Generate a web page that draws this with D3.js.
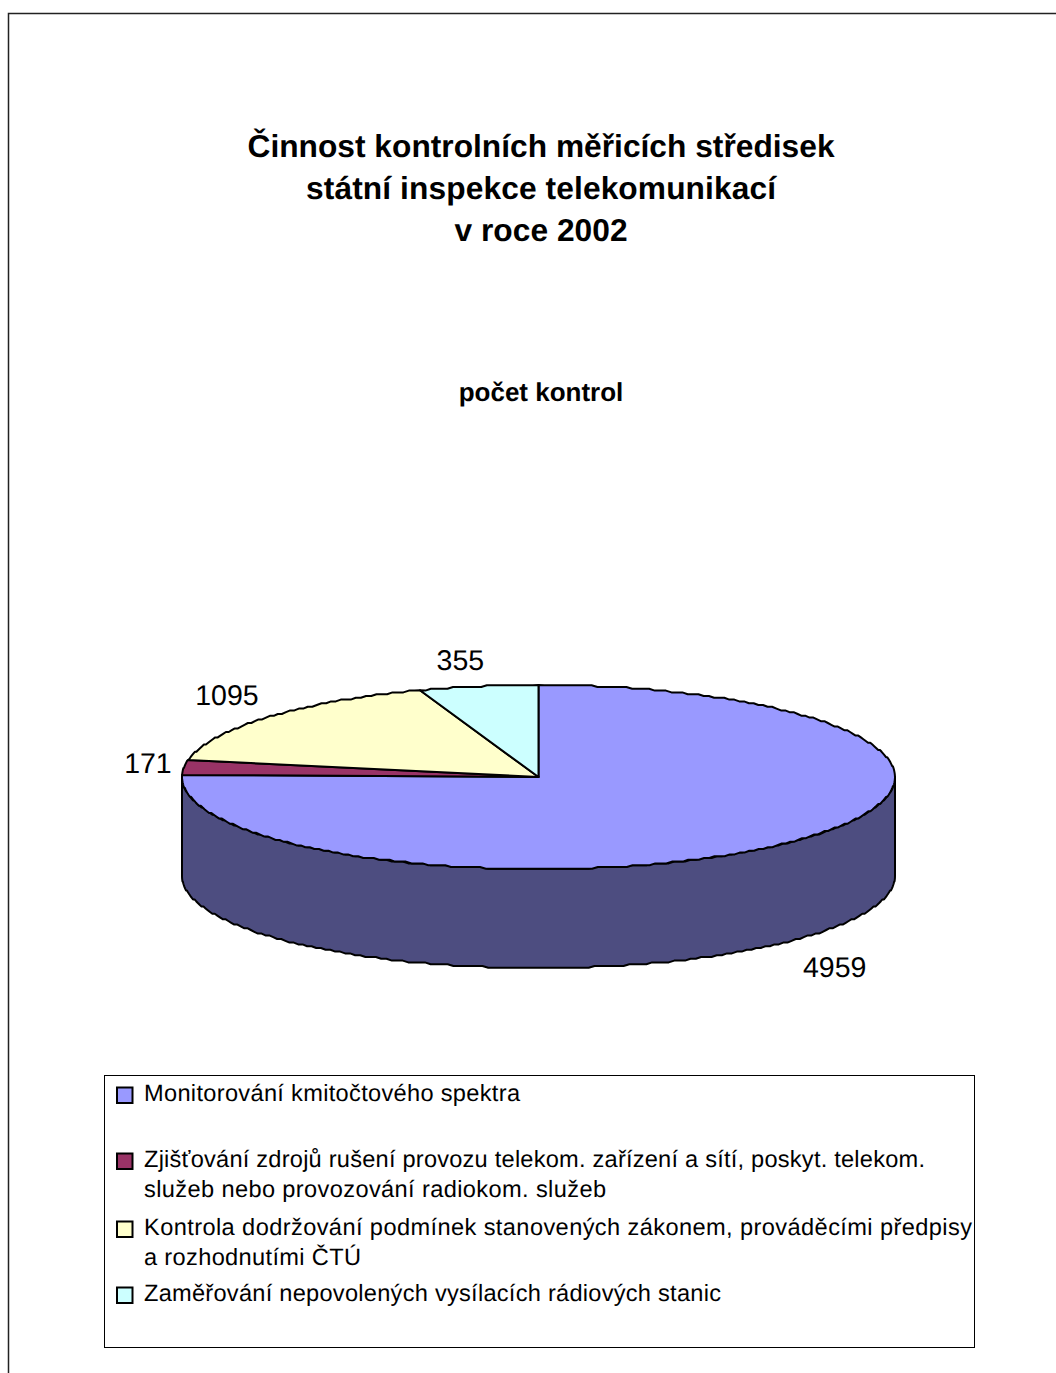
<!DOCTYPE html>
<html>
<head>
<meta charset="utf-8">
<script src="https://cdn.jsdelivr.net/npm/d3@7"></script>
<style>
  html, body { margin: 0; padding: 0; background: #fff; overflow: hidden; }
  svg { display: block; }
  text { font-family: "Liberation Sans", Arial, sans-serif; fill: #000; text-rendering: geometricPrecision; }
</style>
</head>
<body>
<div id="chart"></div>
<script>
// Chart data
const titleLines = ['Činnost kontrolních měřicích středisek', 'státní inspekce telekomunikací', 'v roce 2002'];
const subtitle = 'počet kontrol';
const values = [4959, 171, 1095, 355];
const colors = ['#9999ff', '#993366', '#ffffcc', '#ccffff'];
const legendEntries = [
  ['Monitorování kmitočtového spektra'],
  ['Zjišťování zdrojů rušení provozu telekom. zařízení a sítí, poskyt. telekom.', 'služeb nebo provozování radiokom. služeb'],
  ['Kontrola dodržování podmínek stanovených zákonem, prováděcími předpisy', 'a rozhodnutími ČTÚ'],
  ['Zaměřování nepovolených vysílacích rádiových stanic']
];

// Layout
const width = 1056, height = 1373;
const cx = 538.5, cy = 777, rx = 356.5, ry = 92, depth = 99;
const grid = 1.8; // the original outline is slightly stepped, it was drawn at low resolution
const labelOffsets = [[47, 134], [-36, 6], [-41, -12], [-18, -16]]; // from the rim point to the label baseline
const titleWidths = [587, 470, 173];
const legendWidths = [[376], [781, 462], [828, 217], [577]]; // line widths in the original, its spacing is uneven
const legendRowY = [1101, 1167, 1235, 1301];
const legendLineGap = 30;

const svg = d3.select('#chart').append('svg')
  .attr('width', width)
  .attr('height', height);

// Page frame, only top and left are visible
svg.append('path')
  .attr('d', `M8.5,${height}V13.5H${width}`)
  .attr('fill', 'none')
  .attr('stroke', '#222')
  .attr('stroke-width', 1.5);

// Titles
svg.selectAll('text.title')
  .data(titleLines)
  .join('text')
    .attr('class', 'title')
    .attr('x', 541)
    .attr('y', (d, i) => 157 + i * 42)
    .attr('text-anchor', 'middle')
    .attr('textLength', (d, i) => titleWidths[i])
    .attr('lengthAdjust', 'spacing')
    .style('font-size', '31.7px')
    .style('font-weight', '700')
    .text(d => d);

svg.append('text')
  .attr('x', 541)
  .attr('y', 401)
  .attr('text-anchor', 'middle')
  .style('font-size', '26px')
  .style('font-weight', '700')
  .text(subtitle);

// Pie: angles run clockwise from the top, flattened to an ellipse
const pie = d3.pie().sort(null)(values);
const rimPoint = a => [cx + rx * Math.sin(a), cy - ry * Math.cos(a)];
const snap = ([x, y]) => [x, cy + Math.round((y - cy) / grid) * grid];

// Stepped rim between two angles, the end points stay exact
const rimPath = (a0, a1) => {
  const n = Math.max(2, Math.ceil((a1 - a0) * 60));
  const pts = d3.range(n + 1).map(i => a0 + (a1 - a0) * i / n).map(rimPoint);
  return pts.map((p, i) => (i === 0 || i === n) ? p : snap(p));
};

// Side wall of the front half
const topEdge = rimPath(Math.PI / 2, Math.PI * 3 / 2);
const bottomEdge = topEdge.map(([x, y]) => [x, y + depth]).reverse();
svg.append('path')
  .attr('d', d3.line()(topEdge.concat(bottomEdge)) + 'Z')
  .attr('fill', '#4d4d80')
  .attr('stroke', '#000')
  .attr('stroke-width', 2)
  .attr('stroke-linejoin', 'round');

svg.append('g')
  .selectAll('path')
  .data(pie)
  .join('path')
    .attr('d', d => d3.line()([[cx, cy], ...rimPath(d.startAngle, d.endAngle)]) + 'Z')
    .attr('fill', (d, i) => colors[i])
    .attr('stroke', '#000')
    .attr('stroke-width', 2)
    .attr('stroke-linejoin', 'round');

// Data labels
svg.selectAll('text.value')
  .data(pie)
  .join('text')
    .attr('class', 'value')
    .attr('x', (d, i) => rimPoint((d.startAngle + d.endAngle) / 2)[0] + labelOffsets[i][0])
    .attr('y', (d, i) => rimPoint((d.startAngle + d.endAngle) / 2)[1] + labelOffsets[i][1])
    .attr('text-anchor', 'middle')
    .style('font-size', '28.5px')
    .text(d => d.value);

// Legend
svg.append('rect')
  .attr('x', 104.5)
  .attr('y', 1075.5)
  .attr('width', 870)
  .attr('height', 272)
  .attr('fill', '#fff')
  .attr('stroke', '#000')
  .attr('stroke-width', 1);

const rows = svg.selectAll('g.legend')
  .data(legendEntries.map((lines, i) => lines.map((line, j) => ({ line, w: legendWidths[i][j] }))))
  .join('g')
    .attr('class', 'legend')
    .attr('transform', (d, i) => `translate(0,${legendRowY[i]})`);

rows.append('rect')
  .attr('x', 117)
  .attr('y', -13.5)
  .attr('width', 15.5)
  .attr('height', 15.5)
  .attr('fill', (d, i) => colors[i])
  .attr('stroke', '#000')
  .attr('stroke-width', 2);

rows.selectAll('text')
  .data(d => d)
  .join('text')
    .attr('x', 144)
    .attr('y', (d, i) => i * legendLineGap)
    .attr('textLength', d => d.w)
    .attr('lengthAdjust', 'spacing')
    .style('font-size', '23.6px')
    .text(d => d.line);
</script>
</body>
</html>
